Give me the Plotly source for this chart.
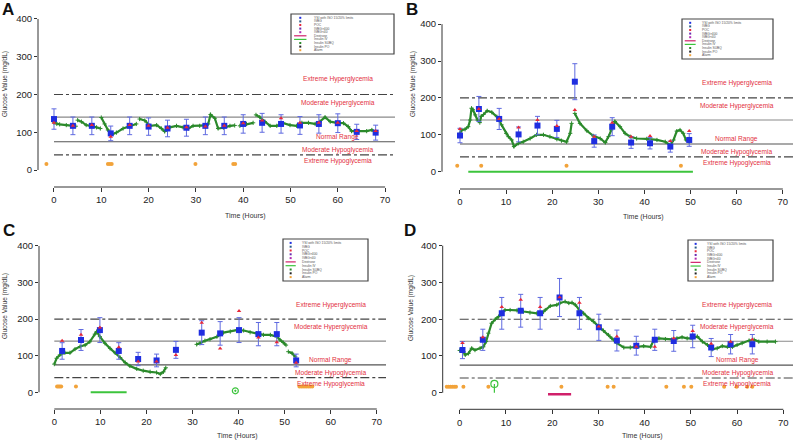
import plotly.graph_objects as go

W, H = 793, 443

# ---------------- data ----------------
# Panel A
A_ysi_t = [0, 4, 8, 12, 16, 20, 24, 28, 32, 36, 40, 44, 48, 52, 56, 60, 64, 68]
A_ysi_v = [135, 117, 117, 97, 117, 115, 110, 112, 117, 117, 122, 125, 122, 118, 122, 124, 101, 99]
A_poc_v = [125, 117, 119, 88, 119, 117, 112, 113, 115, 117, 124, 131, 137, 125, 125, 125, 103, 103]
A_cgm_t = [0, 0.6, 1.2, 2.6, 3.9, 4.6, None,
           5.0, 5.8, 6.8, 7.9, 9.0, 9.8, None,
           10.0, 10.7, 11.4, 12.1, 13.2, 14.6, 16.0, 17.4, None,
           18.1, 19.2, 20.3, 21.7, 22.7, 23.4, 24.5, 25.9, 27.3, 28.4, 29.4, 30.8, 31.9, 32.6, 33.1, 34.0,
           34.7, 35.8, 37.2, 38.2, None,
           39.3, 40.7, 42.1, None,
           42.7, 43.5, 44.6, 45.7, 47.1, 48.5, 49.9, 51.3, 52.4, 53.8, 55.2, 56.2, 57.3, 58.4, 59.8, 61.2,
           62.2, 62.9, 64.4, 66.1, 67.2, 68.1]
A_cgm_v = [125, 122, 121, 119, 117, 116, None,
           132, 128, 119, 117, 113, 110, None,
           139, 122, 106, 93, 99, 110, 117, 122, None,
           135, 131, 117, 119, 110, 102, 113, 117, 113, 110, 117, 117, 118, 122, 147, 137,
           110, 112, 117, 118, None,
           117, 122, 125, None,
           146, 140, 128, 117, 117, 124, 119, 117, 125, 125, 122, 128, 140, 128, 125, 124,
           115, 103, 103, 103, 106, 99]
A_alarm_t = [-1.6, 11.4, 11.8, 12.2, 29.9, 37.9, 38.3]

# Panel B
B_ysi_t = [0, 4.1, 8.5, 12.7, 16.8, 21.0, 24.9, 29.1, 33.0, 37.1, 41.2, 45.6, 49.7]
B_ysi_v = [98, 170, 143, 101, 125, 116, 244, 83, 122, 79, 77, 68, 86]
B_poc_v = [116, 170, 143, 120, 140, 124, 167, 95, 133, 95, 97, 83, 110]
B_cgm_t = [0, 0.4, 1.1, 1.8, 2.2, 2.5, 2.8, 3.3, 3.8, 4.3, 4.6, 5.1, 5.9, 6.9, 8.0, 9.0, 10.0, 10.5,
           11.2, 11.7, 12.7, 13.7, 15.2, 16.6, 18.1, 19.5, 21.0, 22.0, 23.1, 23.9, 24.2, None,
           24.9, 26.0, 27.5, 28.9, 30.4, 31.5, 32.2, 32.8, 33.6, 34.7, 35.8, 36.9, 38.3, 40.5, 42.7,
           44.5, 45.6, 46.3, 47.0, 47.7, 48.4, 49.0, 49.7]
B_cgm_v = [104, 113, 115, 122, 140, 172, 168, 154, 140, 133, 150, 155, 165, 161, 149, 127, 104, 95,
           86, 68, 77, 81, 90, 100, 100, 95, 88, 84, 81, 104, 131, None,
           158, 131, 111, 97, 90, 79, 95, 113, 136, 122, 104, 95, 90, 89, 86,
           81, 72, 86, 110, 113, 104, 86, 81]
B_alarm_t = [-0.6, 4.6, 23.1, 47.9]
B_ins_iv_t = [1.8, 50.5]

# Panel C
C_ysi_t = [1.7, 5.8, 9.9, 14.0, 18.2, 22.2, 26.4, 32.0, 36.0, 40.1, 44.3, 48.3, 52.5]
C_ysi_v = [113, 143, 170, 113, 91, 87, 116, 163, 161, 170, 159, 159, 87]
C_poc_v = [141, 157, 177, 123, 84, 84, 102, 190, 120, 222, 150, 137, 81]
C_cgm_t = [0, 0.5, 1.2, 2.3, 3.4, 4.5, 5.6, 6.7, 7.7, 8.8, 9.2, 9.9, 11.0, 12.1, 13.2, 14.3, 15.4,
           16.4, 17.9, 19.3, 20.8, 22.2, 23.0, 23.7, 24.2, None,
           30.9, 31.6, 32.7, 33.8, 35.3, 36.7, 38.2, 39.6, 41.1, 42.5, 43.9, 45.4, 46.9, 48.3, 49.0,
           49.7, 50.3, None, 50.8, 51.6, 52.3]
C_cgm_v = [77, 93, 102, 108, 108, 118, 125, 129, 138, 159, 166, 152, 134, 120, 108, 95, 81,
           72, 64, 59, 56, 54, 50, 56, 67, None,
           131, 134, 141, 145, 152, 163, 166, 170, 169, 164, 161, 157, 157, 152, 143,
           136, 129, None, 111, 107, 97]
C_alarm_t = [0.6, 0.9, 1.2, 1.5, 4.7, 53.2, 53.6, 54.0, 54.4, 54.8, 55.2, 55.6, 56.0]
C_ins_iv_t = [7.9, 15.7]
C_subq_t = [39.3]
C_subq_v = [4]

# Panel D
D_ysi_t = [0.6, 5.0, 9.1, 13.2, 17.4, 21.6, 25.9, 30.1, 34.0, 38.2, 42.2, 46.3, 50.4, 54.4, 58.6, 63.3]
D_ysi_v = [116, 144, 216, 223, 216, 259, 216, 178, 142, 128, 144, 141, 153, 123, 132, 132]
D_poc_v = [135, 151, 233, 253, 233, 260, 245, 180, 153, 125, 125, 148, 168, 133, 139, 145]
D_cgm_t = [0, 0.8, 1.2, 1.9, 2.6, 3.3, 4.4, 5.1, 5.7, 6.2, 6.9, 7.7, 8.4, 9.1, 9.8, 10.9, 12.4, 13.8,
           15.2, 16.7, 17.8, 18.5, 19.6, 21.0, 21.7, 22.8, 23.6, 24.3, 25.0, 25.9, 26.8, 27.9, 28.9,
           30.0, 31.1, 32.2, 32.9, 34.0, 35.5, 36.9, 38.4, 39.8, 41.3, 42.0, 43.1, 44.5, 45.9, 47.0,
           48.1, 49.2, 50.3, 51.4, 52.5, 53.6, 54.6, 55.7, 56.8, 57.9, 59.0, 60.0, 61.1, 62.6, 63.7,
           64.7, 66.5, 68.3]
D_cgm_v = [115, 112, 103, 107, 121, 116, 121, 125, 139, 162, 189, 200, 207, 218, 225, 225, 224, 221,
           218, 216, 216, 225, 236, 239, 244, 248, 244, 245, 239, 225, 216, 203, 194,
           182, 169, 157, 148, 135, 123, 123, 125, 127, 125, 144, 148, 146, 145, 148,
           151, 148, 148, 153, 139, 130, 118, 121, 127, 125, 125, 130, 135, 142, 144,
           139, 139, 139]
D_alarm_t = [-2.8, -2.4, -2.0, -1.6, -1.2, -0.8, 0.8, 6.2, 22.0, 32.0, 33.3, 44.7, 48.5, 50.1,
             57.2, 59.9, 62.2, 63.3]
D_dex_t = [19.1, 24.1]
D_dex_v = [-4, -4]
D_subq_t = [7.5]
D_subq_v = [24]

ALARM_LEVEL = 16
ZONE_LABELS = ["Extreme Hyperglycemia", "Moderate Hyperglycemia", "Normal Range",
               "Moderate Hypoglycemia", "Extreme Hypoglycemia"]
ZONE_LABEL_Y = [240, 178, 88, 53, 23]
LEGEND_LABELS = ["YSI with ISO 15/20% limits", "IVBG", "POC", "IVBG>400", "IVBG<40",
                 "Dextrose", "Insulin IV", "Insulin SUBQ", "Insulin PO", "Alarm"]
X_TICKS = [0, 10, 20, 30, 40, 50, 60, 70]
Y_TICKS = [0, 100, 200, 300, 400]

# ---------------- layout config (pixels) ----------------
panels = [
    dict(letter="A", left=38, right=395, top=10, bottom=187, xr=[-3.38, 72.09], yr=[-45, 423.8],
         ysi_t=A_ysi_t, ysi_v=A_ysi_v, poc_v=A_poc_v, cgm_t=A_cgm_t, cgm_v=A_cgm_v, alarm=A_alarm_t,
         letter_xy=(8, 9), ytitle_xy=(5, 84), xtitle_xy=(245, 216), legend=(291, 14, 394, 54)),
    dict(letter="B", left=442, right=793, top=12, bottom=189, xr=[-3.9, 72.2], yr=[-47, 433],
         ysi_t=B_ysi_t, ysi_v=B_ysi_v, poc_v=B_poc_v, cgm_t=B_cgm_t, cgm_v=B_cgm_v, alarm=B_alarm_t,
         letter_xy=(412, 10), ytitle_xy=(413, 84), xtitle_xy=(643, 217), legend=(682, 19, 773, 59)),
    dict(letter="C", left=39, right=386, top=235, bottom=409, xr=[-3.32, 72.0], yr=[-45.7, 430],
         ysi_t=C_ysi_t, ysi_v=C_ysi_v, poc_v=C_poc_v, cgm_t=C_cgm_t, cgm_v=C_cgm_v, alarm=C_alarm_t,
         letter_xy=(9, 230), ytitle_xy=(5, 306), xtitle_xy=(237, 436), legend=(283, 239, 368, 281)),
    dict(letter="D", left=442.7, right=793, top=235, bottom=409.3, xr=[-3.68, 72.1], yr=[-45, 429],
         ysi_t=D_ysi_t, ysi_v=D_ysi_v, poc_v=D_poc_v, cgm_t=D_cgm_t, cgm_v=D_cgm_v, alarm=D_alarm_t,
         letter_xy=(410, 230), ytitle_xy=(411, 308), xtitle_xy=(642, 436), legend=(688, 240, 773, 281)),
]

CGM_COLOR = "#2b8a2b"
YSI_COLOR = "#1f2ee0"
ERR_COLOR = "#5f6ae0"
POC_COLOR = "#e8283a"
ALARM_COLOR = "#f2a33a"
IV_COLOR = "#3cc43c"
DEX_COLOR = "#d0206a"
ZONE_COLOR = "#e3303e"
FONT = "Liberation Sans, Arial, sans-serif"

fig = go.Figure()
layout = dict(width=W, height=H, autosize=False, margin=dict(l=0, r=0, t=0, b=0, autoexpand=False),
              paper_bgcolor="white", plot_bgcolor="white", showlegend=False,
              font=dict(family=FONT, color="#222"))
shapes = []
annotations = []


def px2paper(x, y):
    return x / W, 1 - y / H


for i, p in enumerate(panels):
    n = "" if i == 0 else str(i + 1)
    xa, ya = "x" + n, "y" + n
    layout["xaxis" + n] = dict(
        domain=[p["left"] / W, p["right"] / W], range=p["xr"], anchor=ya, automargin=False,
        tickvals=X_TICKS, ticks="outside", ticklen=4, tickwidth=1, tickcolor="#333",
        showline=False, showgrid=False, zeroline=False,
        tickfont=dict(size=9.5, color="#222", family=FONT))
    layout["yaxis" + n] = dict(
        domain=[1 - p["bottom"] / H, 1 - p["top"] / H], range=p["yr"], anchor=xa, automargin=False,
        tickvals=Y_TICKS, ticks="outside", ticklen=3, tickwidth=1, tickcolor="#333",
        showline=False, showgrid=False, zeroline=False,
        tickfont=dict(size=9.5, color="#222", family=FONT))

    # axis lines (R-style detached axes)
    shapes.append(dict(type="line", xref=xa, yref=ya + " domain", x0=0, x1=70, y0=0, y1=0,
                       line=dict(color="#333", width=1)))
    shapes.append(dict(type="line", xref=xa + " domain", yref=ya, x0=0, x1=0, y0=0, y1=400,
                       line=dict(color="#333", width=1)))

    # reference lines
    for yv, dash, col in [(200, "dashdot", "#444"), (140, "solid", "#8a8a8a"),
                          (75, "solid", "#555"), (40, "dashdot", "#444")]:
        shapes.append(dict(type="line", xref=xa, yref=ya, x0=0, x1=p["xr"][1], y0=yv, y1=yv,
                           line=dict(color=col, width=1.1, dash=dash), layer="below"))

    # zone labels
    for lab, yv in zip(ZONE_LABELS, ZONE_LABEL_Y):
        annotations.append(dict(xref=xa, yref=ya, x=60, y=yv, text=lab, showarrow=False,
                                font=dict(size=6.6, color=ZONE_COLOR, family=FONT),
                                xanchor="center", yanchor="middle"))

    # CGM trace
    fig.add_trace(go.Scatter(x=p["cgm_t"], y=p["cgm_v"], mode="lines+markers",
                             line=dict(color=CGM_COLOR, width=2.2),
                             marker=dict(color=CGM_COLOR, size=3, symbol="cross-thin",
                                         line=dict(color=CGM_COLOR, width=1)),
                             connectgaps=False, xaxis=xa, yaxis=ya, hoverinfo="skip"))
    # YSI with ISO limits
    errs = [0.2 * v if v >= 75 else 15 for v in p["ysi_v"]]
    fig.add_trace(go.Scatter(x=p["ysi_t"], y=p["ysi_v"], mode="markers",
                             marker=dict(color=YSI_COLOR, size=6, symbol="square"),
                             error_y=dict(type="data", array=errs, visible=True,
                                          color=ERR_COLOR, thickness=1, width=2.5),
                             xaxis=xa, yaxis=ya))
    # POC
    fig.add_trace(go.Scatter(x=p["ysi_t"], y=p["poc_v"], mode="markers",
                             marker=dict(color=POC_COLOR, size=4, symbol="triangle-up"),
                             xaxis=xa, yaxis=ya))
    # Alarms
    fig.add_trace(go.Scatter(x=p["alarm"], y=[ALARM_LEVEL] * len(p["alarm"]), mode="markers",
                             marker=dict(color=ALARM_COLOR, size=4, symbol="circle"),
                             xaxis=xa, yaxis=ya))

    # text: panel letter and axis titles
    lx, ly = px2paper(*p["letter_xy"])
    annotations.append(dict(xref="paper", yref="paper", x=lx, y=ly, text="<b>%s</b>" % p["letter"],
                            showarrow=False, font=dict(size=17, color="#111", family=FONT),
                            xanchor="center", yanchor="middle"))
    tx, ty = px2paper(*p["ytitle_xy"])
    annotations.append(dict(xref="paper", yref="paper", x=tx, y=ty, text="Glucose Value (mg/dL)",
                            showarrow=False, textangle=-90, font=dict(size=6.5, color="#333", family=FONT),
                            xanchor="center", yanchor="middle"))
    tx, ty = px2paper(*p["xtitle_xy"])
    annotations.append(dict(xref="paper", yref="paper", x=tx, y=ty, text="Time (Hours)",
                            showarrow=False, font=dict(size=7, color="#333", family=FONT),
                            xanchor="center", yanchor="middle"))

    # legend box (drawn manually, tiny)
    x0, y0, x1, y1 = p["legend"]
    bx0, by0 = px2paper(x0, y0)
    bx1, by1 = px2paper(x1, y1)
    shapes.append(dict(type="rect", xref="paper", yref="paper", x0=bx0, x1=bx1, y0=by1, y1=by0,
                       line=dict(color="#444", width=1.2), fillcolor="white"))
    rows = len(LEGEND_LABELS)
    rh = (y1 - y0 - 4) / rows
    sym_colors = [YSI_COLOR, "#2a5a8a", POC_COLOR, "#6a2ab0", "#b02ab0",
                  DEX_COLOR, IV_COLOR, CGM_COLOR, "#222", ALARM_COLOR]
    for r, lab in enumerate(LEGEND_LABELS):
        cy = y0 + 2 + rh * (r + 0.5)
        sx = x0 + (x1 - x0) * 0.09
        if lab in ("Dextrose", "Insulin IV"):
            a0, b0 = px2paper(x0 + (x1 - x0) * 0.03, cy)
            a1, b1 = px2paper(x0 + (x1 - x0) * 0.15, cy)
            shapes.append(dict(type="line", xref="paper", yref="paper", x0=a0, x1=a1, y0=b0, y1=b1,
                               line=dict(color=sym_colors[r], width=1.2)))
        else:
            a0, b0 = px2paper(sx - 1, cy - 1)
            a1, b1 = px2paper(sx + 1, cy + 1)
            shapes.append(dict(type="rect", xref="paper", yref="paper", x0=a0, x1=a1, y0=b1, y1=b0,
                               line=dict(width=0), fillcolor=sym_colors[r]))
        ax, ay = px2paper(x0 + (x1 - x0) * 0.2, cy)
        annotations.append(dict(xref="paper", yref="paper", x=ax, y=ay, text=lab, showarrow=False,
                                font=dict(size=3.3, color="#555", family=FONT),
                                xanchor="left", yanchor="middle"))

# extra event markers
fig.add_trace(go.Scatter(x=B_ins_iv_t, y=[0, 0], mode="lines", line=dict(color=IV_COLOR, width=2),
                         xaxis="x2", yaxis="y2"))
fig.add_trace(go.Scatter(x=C_ins_iv_t, y=[0, 0], mode="lines", line=dict(color=IV_COLOR, width=2),
                         xaxis="x3", yaxis="y3"))
fig.add_trace(go.Scatter(x=C_subq_t, y=C_subq_v, mode="markers",
                         marker=dict(color=IV_COLOR, size=6, symbol="circle-open-dot", line=dict(width=1.2)),
                         xaxis="x3", yaxis="y3"))
fig.add_trace(go.Scatter(x=D_dex_t, y=D_dex_v, mode="lines", line=dict(color=DEX_COLOR, width=2.5),
                         xaxis="x4", yaxis="y4"))
fig.add_trace(go.Scatter(x=[D_subq_t[0], D_subq_t[0]], y=[0, D_subq_v[0]], mode="lines",
                         line=dict(color=IV_COLOR, width=1.2), xaxis="x4", yaxis="y4"))
fig.add_trace(go.Scatter(x=D_subq_t, y=D_subq_v, mode="markers",
                         marker=dict(color=IV_COLOR, size=7, symbol="circle-open", line=dict(width=1.2)),
                         xaxis="x4", yaxis="y4"))

layout["shapes"] = shapes
layout["annotations"] = annotations
fig.update_layout(**layout)
fig.write_html("out.html", config={"displayModeBar": False},
               post_script="document.body.style.margin='0';document.body.style.overflow='hidden';")
